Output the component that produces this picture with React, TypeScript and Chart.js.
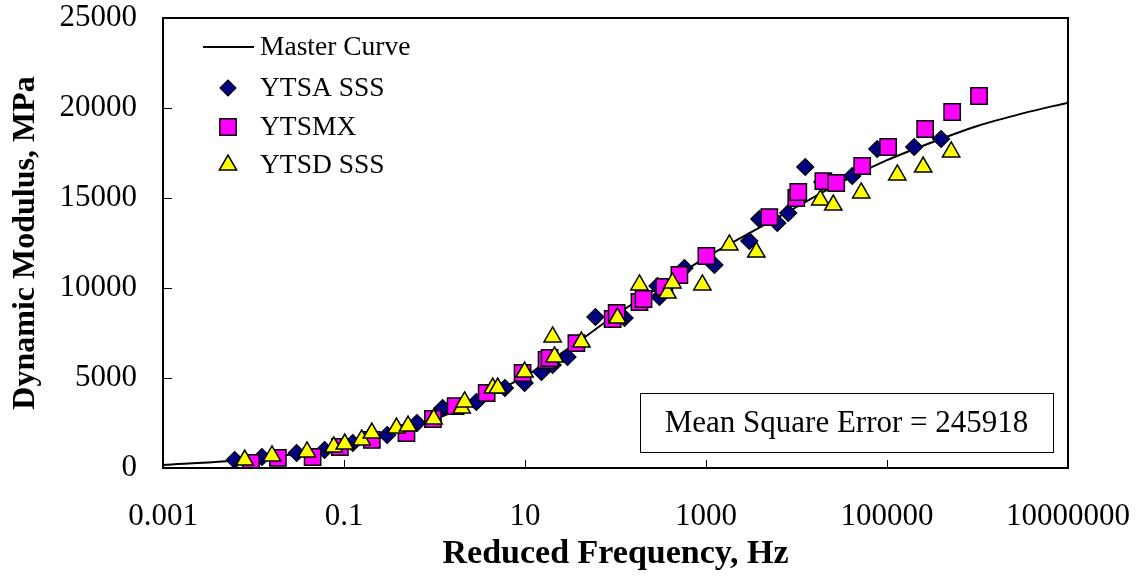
import React, { useEffect, useRef } from 'react';
import { Chart, registerables } from 'chart.js';
import { drawPoint } from 'chart.js/helpers';
Chart.register(...registerables);

const FONT = '"Liberation Serif", "Times New Roman", serif';

// Master curve (reduced frequency Hz, dynamic modulus MPa)
const masterFreq = [0.001, 0.005, 0.01, 0.0316, 0.1, 0.316, 1, 3.16, 10, 31.6, 100, 316, 1000, 3160, 10000, 31600, 100000, 316000, 1000000, 3160000, 10000000];
const masterModulus = [170, 380, 500, 800, 1250, 1900, 2700, 3800, 5100, 6700, 8500, 10100, 11700, 13100, 14500, 15900, 17100, 18100, 19000, 19700, 20300];

// YTSA SSS
const ytsaFreq = [0.0062, 0.0124, 0.03, 0.061, 0.125, 0.3, 0.64, 1.23, 2.9, 6.0, 9.9, 15.2, 20.2, 29.5, 60, 126, 291, 306, 578, 1240, 3010, 3880, 6140, 8110, 12500, 19300, 41300, 78000, 199500, 396000];
const ytsaModulus = [444, 611, 833, 1000, 1389, 1833, 2500, 3333, 3667, 4444, 4722, 5333, 5722, 6167, 8389, 8333, 10111, 9500, 11111, 11278, 12611, 13833, 13611, 14167, 16722, 15889, 16222, 17722, 17833, 18278];

// YTSMX
const ytsmxFreq = [0.0094, 0.0186, 0.045, 0.09, 0.203, 0.49, 0.96, 1.71, 3.77, 9.4, 17.3, 18.7, 37, 93, 103, 184, 204, 347, 508, 1010, 5010, 9950, 10470, 19800, 27500, 53200, 103000, 264000, 525000, 1040000];
const ytsmxModulus = [278, 556, 611, 1167, 1556, 1944, 2722, 3444, 4167, 5278, 6000, 6111, 6944, 8278, 8611, 9222, 9389, 10056, 10722, 11778, 13944, 15000, 15333, 15944, 15833, 16778, 17833, 18833, 19778, 20667];

// YTSD SSS
const ytsdFreq = [0.008, 0.016, 0.039, 0.077, 0.102, 0.157, 0.203, 0.38, 0.51, 0.98, 2.0, 2.15, 4.4, 5.0, 9.9, 20.2, 21.2, 42, 105, 184, 375, 426, 912, 1810, 3600, 18300, 25500, 51900, 130000, 251000, 512000];
const ytsdModulus = [444, 667, 889, 1167, 1333, 1556, 1944, 2222, 2333, 2722, 3333, 3667, 4444, 4444, 5333, 7278, 6167, 7000, 8333, 10167, 9722, 10278, 10167, 12389, 12000, 14889, 14611, 15278, 16278, 16722, 17556];

const xTickValues = [0.001, 0.1, 10, 1000, 100000, 10000000];
const xTickLabels = ['0.001', '0.1', '10', '1000', '100000', '10000000'];
const yTickValues = [0, 5000, 10000, 15000, 20000, 25000];

const seriesNames = ['Master Curve', 'YTSA SSS', 'YTSMX', 'YTSD SSS'];
const xTitle = 'Reduced Frequency, Hz';
const yTitle = 'Dynamic Modulus, MPa';
const mseText = 'Mean Square Error = 245918';

const toPoints = (xs: number[], ys: number[]) => xs.map((x, i) => ({ x, y: ys[i] }));

const decorPlugin = {
  id: 'decor',
  afterDraw(chart: any) {
    const { ctx, chartArea: a, scales } = chart;
    ctx.save();
    // inward tick marks
    ctx.strokeStyle = '#000';
    ctx.lineWidth = 1;
    xTickValues.forEach((v) => {
      const px = Math.round(scales.x.getPixelForValue(v)) + 0.5;
      ctx.beginPath();
      ctx.moveTo(px, a.bottom);
      ctx.lineTo(px, a.bottom - 8);
      ctx.stroke();
    });
    yTickValues.forEach((v) => {
      const py = Math.round(scales.y.getPixelForValue(v)) + 0.5;
      ctx.beginPath();
      ctx.moveTo(a.left, py);
      ctx.lineTo(a.left + 9, py);
      ctx.stroke();
    });
    // frame
    ctx.lineWidth = 2;
    ctx.strokeRect(a.left, a.top, a.right - a.left, a.bottom - a.top);

    // legend
    const ds = chart.data.datasets;
    const lx = a.left + 40;
    const tx = a.left + 97;
    const rows = [a.top + 29, a.top + 70, a.top + 109, a.top + 147];
    ctx.font = '27.5px ' + FONT;
    ctx.fillStyle = '#000';
    ctx.textBaseline = 'middle';
    ctx.textAlign = 'left';
    ds.forEach((d: any, i: number) => {
      const y = rows[i];
      if (i === 0) {
        ctx.strokeStyle = d.borderColor;
        ctx.lineWidth = 2;
        ctx.beginPath();
        ctx.moveTo(lx, y);
        ctx.lineTo(lx + 51, y);
        ctx.stroke();
      } else {
        ctx.fillStyle = d.backgroundColor;
        ctx.strokeStyle = d.borderColor;
        ctx.lineWidth = d.borderWidth;
        drawPoint(ctx, { pointStyle: d.pointStyle, radius: d.legendRadius, rotation: 0, borderWidth: d.borderWidth } as any, lx + 25, y);
      }
      ctx.fillStyle = '#000';
      ctx.fillText(d.label, tx, y + 1);
    });

    // MSE box
    const bw = 413, bh = 59;
    const bx = a.right - 15 - bw;
    const by = a.bottom - 16 - bh;
    ctx.fillStyle = '#fff';
    ctx.fillRect(bx, by, bw, bh);
    ctx.strokeStyle = '#000';
    ctx.lineWidth = 1;
    ctx.strokeRect(bx + 0.5, by + 0.5, bw, bh);
    ctx.fillStyle = '#000';
    ctx.textAlign = 'center';
    ctx.font = '31px ' + FONT;
    ctx.fillText(mseText, bx + bw / 2, by + bh / 2 + 1);
    ctx.restore();
  },
};

const zeroPad = (s: any) => {
  s.paddingTop = 0;
  s.paddingBottom = 0;
  s.paddingLeft = 0;
  s.paddingRight = 0;
};

export default function App() {
  const ref = useRef<HTMLCanvasElement | null>(null);
  useEffect(() => {
    if (!ref.current) return;
    const chart = new Chart(ref.current, {
      type: 'scatter',
      data: {
        datasets: [
          {
            label: seriesNames[0],
            data: toPoints(masterFreq, masterModulus),
            showLine: true,
            borderColor: '#000',
            backgroundColor: '#000',
            borderWidth: 2,
            pointRadius: 0,
            cubicInterpolationMode: 'monotone',
            order: 4,
          } as any,
          {
            label: seriesNames[1],
            data: toPoints(ytsaFreq, ytsaModulus),
            pointStyle: 'rectRot',
            pointRadius: 8.5,
            legendRadius: 8,
            backgroundColor: '#000080',
            borderColor: '#000',
            borderWidth: 1.2,
            order: 3,
          } as any,
          {
            label: seriesNames[2],
            data: toPoints(ytsmxFreq, ytsmxModulus),
            pointStyle: 'rect',
            pointRadius: 11.5,
            legendRadius: 11.5,
            backgroundColor: '#FF00FF',
            borderColor: '#000',
            borderWidth: 1.5,
            order: 2,
          } as any,
          {
            label: seriesNames[3],
            data: toPoints(ytsdFreq, ytsdModulus),
            pointStyle: 'triangle',
            pointRadius: 10,
            legendRadius: 10,
            backgroundColor: '#FFFF00',
            borderColor: '#000',
            borderWidth: 1.5,
            order: 1,
          } as any,
        ],
      },
      options: {
        responsive: false,
        animation: false,
        devicePixelRatio: 1,
        layout: { padding: { top: 18, right: 70, left: 0, bottom: 0 } },
        plugins: { legend: { display: false }, tooltip: { enabled: false } },
        scales: {
          x: {
            type: 'logarithmic',
            min: 0.001,
            max: 10000000,
            afterBuildTicks: (s: any) => {
              s.ticks = xTickValues.map((v) => ({ value: v }));
            },
            afterFit: (s: any) => {
              s.height = 109;
              zeroPad(s);
            },
            grid: { display: false, drawTicks: false },
            border: { display: false },
            ticks: {
              autoSkip: false,
              maxRotation: 0,
              padding: 30,
              color: '#000',
              font: { family: FONT, size: 31 },
              callback: (_v: any, i: number) => xTickLabels[i],
            },
            title: {
              display: true,
              text: xTitle,
              color: '#000',
              font: { family: FONT, size: 34, weight: 'bold' },
              padding: { top: 0, bottom: 2 },
            },
          },
          y: {
            type: 'linear',
            min: 0,
            max: 25000,
            afterBuildTicks: (s: any) => {
              s.ticks = yTickValues.map((v) => ({ value: v }));
            },
            afterFit: (s: any) => {
              s.width = 163;
              zeroPad(s);
            },
            grid: { display: false, drawTicks: false },
            border: { display: false },
            ticks: {
              padding: 26,
              color: '#000',
              font: { family: FONT, size: 31 },
              callback: (v: any) => String(v),
            },
            title: {
              display: true,
              text: yTitle,
              color: '#000',
              font: { family: FONT, size: 32, weight: 'bold' },
              padding: { top: 7, bottom: 0 },
            },
          },
        },
      } as any,
      plugins: [decorPlugin],
    });
    return () => chart.destroy();
  }, []);
  return (
    <div style={{ position: 'absolute', left: 0, top: 0, width: 1138, height: 577, background: '#fff' }}>
      <canvas ref={ref} width={1138} height={577} />
    </div>
  );
}
